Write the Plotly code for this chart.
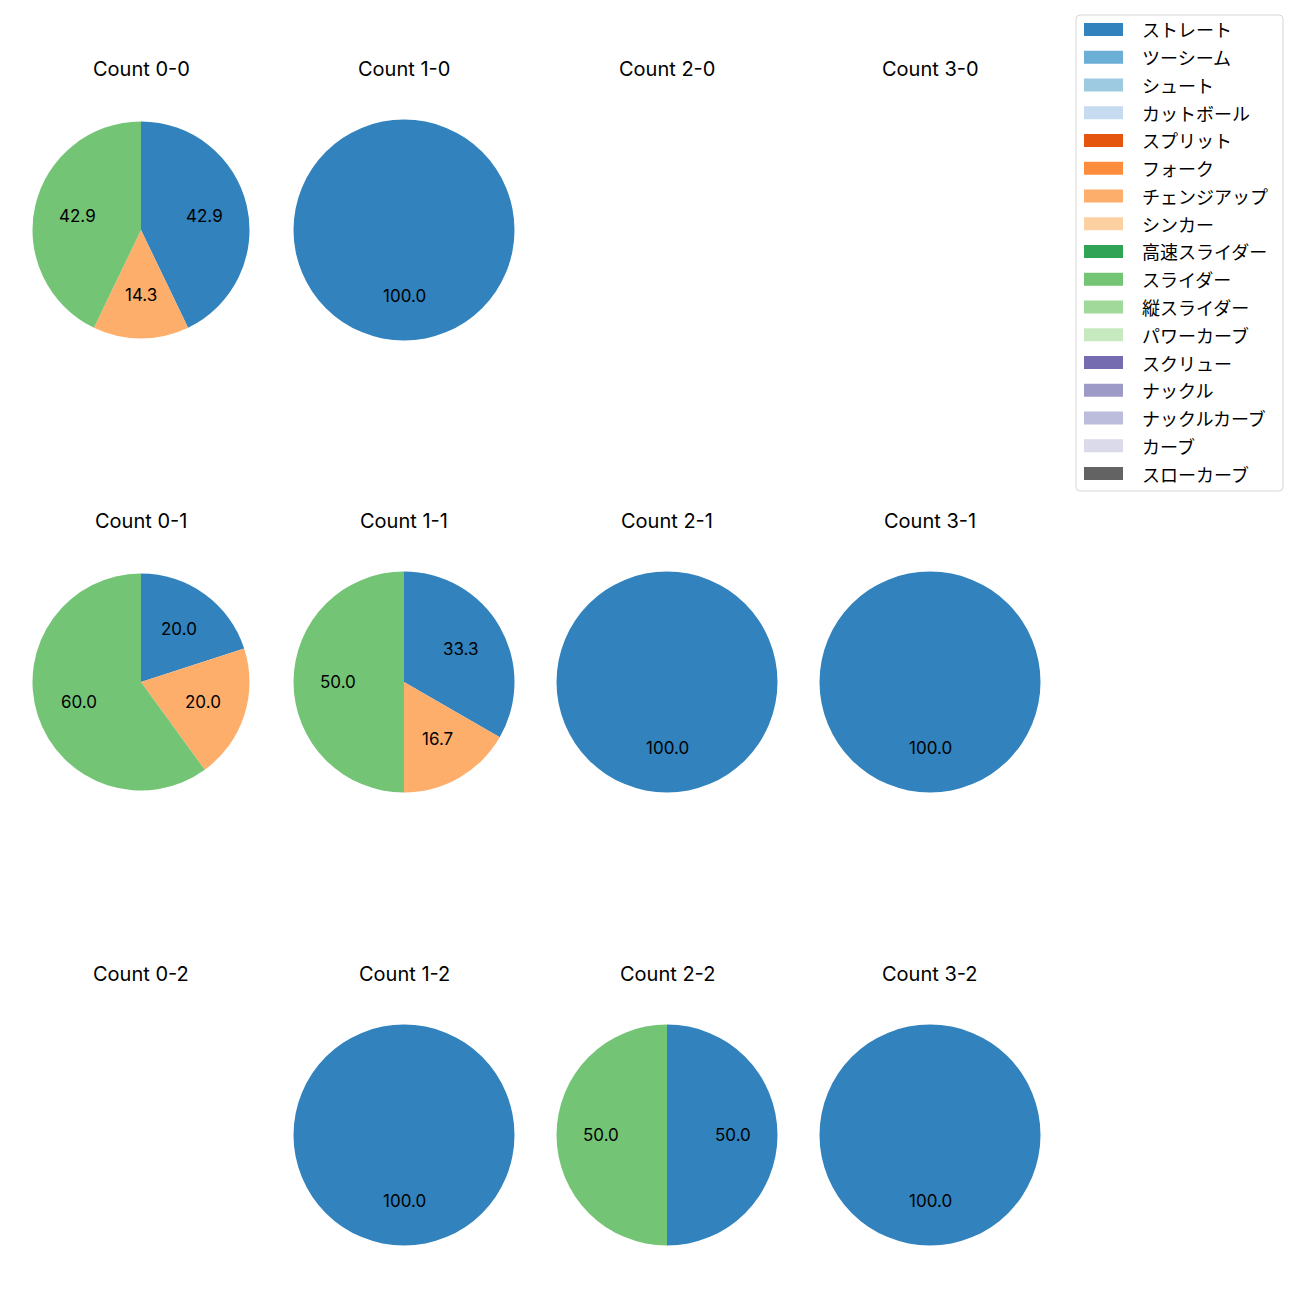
import math
import plotly.graph_objects as go

# ---------------- data ----------------
pitch_types = ["ストレート", "ツーシーム", "シュート", "カットボール", "スプリット", "フォーク",
               "チェンジアップ", "シンカー", "高速スライダー", "スライダー", "縦スライダー",
               "パワーカーブ", "スクリュー", "ナックル", "ナックルカーブ", "カーブ", "スローカーブ"]
pitch_colors = ["#3182bd", "#6baed6", "#9ecae1", "#c6dbef", "#e6550d", "#fd8d3c",
                "#fdae6b", "#fdd0a2", "#31a354", "#74c476", "#a1d99b", "#c7e9c0",
                "#756bb1", "#9e9ac8", "#bcbddc", "#dadaeb", "#636363"]

count_titles = ["Count 0-0", "Count 1-0", "Count 2-0", "Count 3-0",
                "Count 0-1", "Count 1-1", "Count 2-1", "Count 3-1",
                "Count 0-2", "Count 1-2", "Count 2-2", "Count 3-2"]
straight_counts = [3, 1, 0, 0, 1, 2, 1, 1, 0, 1, 1, 1]
changeup_counts = [1, 0, 0, 0, 1, 1, 0, 0, 0, 0, 0, 0]
slider_counts = [3, 0, 0, 0, 3, 3, 0, 0, 0, 0, 1, 0]
series_names = ["ストレート", "チェンジアップ", "スライダー"]

# ---------------- layout constants (pixels in the screenshot) ----------------
W = H = 1300
OFF = 8  # page body margin
col_cx = [141, 404, 667, 930]
col_r = [108.5, 110.5, 110.5, 110.5]
row_cy = [230, 682, 1135]
title_offset = 161
LATIN = "Inter, Noto Sans CJK JP"
JP = "Noto Sans CJK JP"


def px_x(x):
    return (x - OFF) / W


def px_y(y):
    return 1 - (y - OFF) / H


fig = go.Figure()
annotations = []
shapes = []

series_values = [straight_counts, changeup_counts, slider_counts]
color_of = dict(zip(pitch_types, pitch_colors))

for i, title in enumerate(count_titles):
    r, c = divmod(i, 4)
    cx, cy, R = col_cx[c], row_cy[r], col_r[c]
    vals = [s[i] for s in series_values]
    labels = [n for n, v in zip(series_names, vals) if v > 0]
    values = [v for v in vals if v > 0]
    annotations.append(dict(text=title, x=px_x(cx), y=px_y(cy - title_offset), xref="paper", yref="paper",
                            showarrow=False, xanchor="center", yanchor="middle",
                            font=dict(family=LATIN, size=20, color="black")))
    if not values:
        continue
    fig.add_trace(go.Pie(
        labels=labels, values=values, sort=False, direction="clockwise", rotation=0,
        marker=dict(colors=[color_of[l] for l in labels], line=dict(width=0)),
        textinfo="none", hoverinfo="label+percent", showlegend=False,
        domain=dict(x=[px_x(cx - R), px_x(cx + R)], y=[px_y(cy + R), px_y(cy - R)]),
    ))
    total = sum(values)
    cum = 0
    for v in values:
        mid = (cum + v / 2) / total
        cum += v
        th = 2 * math.pi * mid
        lx = cx + 0.6 * R * math.sin(th)
        ly = cy - 0.6 * R * math.cos(th)
        annotations.append(dict(text=f"{100 * v / total:.1f}", x=px_x(lx), y=px_y(ly),
                                xref="paper", yref="paper", showarrow=False,
                                xanchor="center", yanchor="middle",
                                font=dict(family=LATIN, size=17, color="black")))

# ---------------- legend ----------------
lx0, lx1, ly0, ly1 = 1076, 1283, 15, 491
rr = 4
x0, x1 = px_x(lx0), px_x(lx1)
y0, y1 = px_y(ly0), px_y(ly1)
d = rr / W
path = (f"M {x0+d},{y0} L {x1-d},{y0} Q {x1},{y0} {x1},{y0-d} L {x1},{y1+d} Q {x1},{y1} {x1-d},{y1} "
        f"L {x0+d},{y1} Q {x0},{y1} {x0},{y1+d} L {x0},{y0-d} Q {x0},{y0} {x0+d},{y0} Z")
shapes.append(dict(type="path", path=path, xref="paper", yref="paper",
                   line=dict(color="#d6d6d6", width=1), fillcolor="rgba(255,255,255,0.8)"))
for k, (name, col) in enumerate(zip(pitch_types, pitch_colors)):
    yc = 29.5 + k * 27.75
    shapes.append(dict(type="rect", xref="paper", yref="paper",
                       x0=px_x(1084), x1=px_x(1123), y0=px_y(yc - 6.5), y1=px_y(yc + 6.5),
                       line=dict(width=0), fillcolor=col))
    annotations.append(dict(text=name, x=px_x(1140), y=px_y(yc), xref="paper", yref="paper",
                            showarrow=False, xanchor="left", yanchor="middle",
                            font=dict(family=JP, size=18, color="black")))

fig.update_layout(width=W, height=H, margin=dict(l=0, r=0, t=0, b=0),
                  paper_bgcolor="white", plot_bgcolor="white",
                  annotations=annotations, shapes=shapes, showlegend=False)
fig.write_html("out.html")
